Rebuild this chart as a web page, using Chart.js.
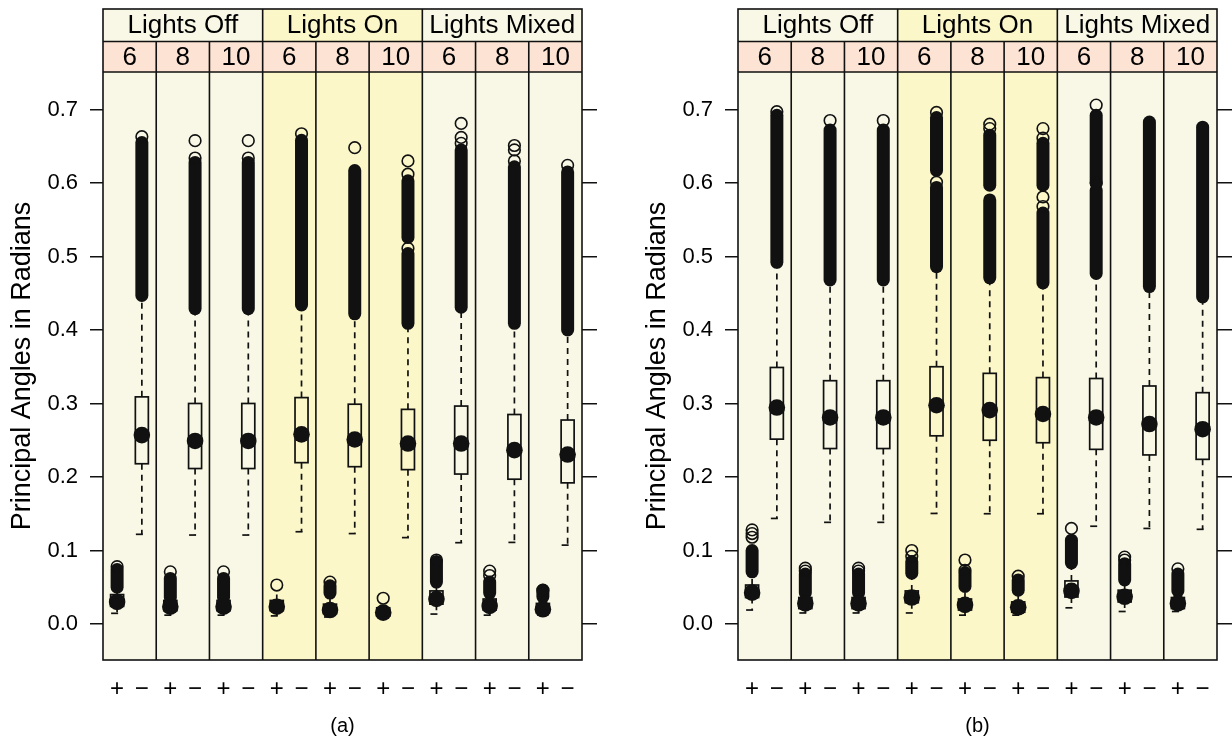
<!DOCTYPE html>
<html>
<head>
<meta charset="utf-8">
<script src="https://cdn.jsdelivr.net/npm/chart.js@4/dist/chart.umd.min.js"></script>
<style>
  html, body { margin: 0; padding: 0; background: #fff; }
  #wrap { position: relative; width: 1232px; height: 742px; }
  canvas { position: absolute; top: 0; }
  #chartA { left: 0; }
  #chartB { left: 616px; }
</style>
</head>
<body>
<div id="wrap">
  <canvas id="chartA" width="616" height="742"></canvas>
  <canvas id="chartB" width="616" height="742"></canvas>
</div>
<script>
// Categories
const lights = ['Lights Off', 'Lights On', 'Lights Mixed'];
const panels = ['6', '8', '10', '6', '8', '10', '6', '8', '10'];
const groups = ['+', '\u2212'];
const yTicks = [0, 0.1, 0.2, 0.3, 0.4, 0.5, 0.6, 0.7];

// (a) "+" boxes
const aPlusLow  = [0.0145, 0.012, 0.012, 0.011, 0.0095, 0.010, 0.0135, 0.012, 0.013];
const aPlusQ1   = [0.024, 0.018, 0.018, 0.018, 0.014, 0.011, 0.027, 0.019, 0.015];
const aPlusMed  = [0.030, 0.0235, 0.0235, 0.0235, 0.019, 0.0155, 0.034, 0.0245, 0.020];
const aPlusQ3   = [0.040, 0.032, 0.032, 0.032, 0.027, 0.022, 0.045, 0.034, 0.028];
const aPlusHigh = [0.050, 0.036, 0.036, 0.045, 0.038, 0.026, 0.055, 0.040, 0.035];
const aPlusBands = [[[0.050, 0.074]], [[0.036, 0.062]], [[0.036, 0.062]], [], [[0.042, 0.052]], [],
                    [[0.057, 0.085]], [[0.042, 0.057]], [[0.037, 0.046]]];
const aPlusOut = [[0.078], [0.071], [0.071], [0.053], [0.057], [0.035], [0.087], [0.066, 0.072], [0.046]];

// (a) "−" boxes
const aMinusLow = [0.122, 0.121, 0.121, 0.1255, 0.123, 0.1175, 0.1106, 0.111, 0.1073];
const aMinusQ1  = [0.218, 0.2115, 0.2115, 0.2195, 0.214, 0.210, 0.204, 0.197, 0.192];
const aMinusMed = [0.257, 0.249, 0.249, 0.258, 0.251, 0.2455, 0.2455, 0.2365, 0.2305];
const aMinusQ3  = [0.309, 0.300, 0.300, 0.308, 0.299, 0.292, 0.2965, 0.285, 0.2775];
const aMinusHigh = [0.447, 0.429, 0.429, 0.434, 0.422, 0.409, 0.431, 0.409, 0.400];
const aMinusBands = [[[0.447, 0.655]], [[0.429, 0.628]], [[0.429, 0.628]], [[0.434, 0.658]], [[0.422, 0.617]],
                     [[0.409, 0.504], [0.526, 0.603]], [[0.431, 0.645]], [[0.409, 0.622]], [[0.400, 0.615]]];
const aMinusOut = [[0.663], [0.634, 0.6576], [0.634, 0.6576], [0.667], [0.648], [0.511, 0.612, 0.630],
                   [0.654, 0.662, 0.681], [0.630, 0.645, 0.651], [0.624]];

// (b) "+" boxes
const bPlusLow  = [0.019, 0.015, 0.015, 0.015, 0.012, 0.012, 0.022, 0.017, 0.017];
const bPlusQ1   = [0.036, 0.021, 0.021, 0.029, 0.019, 0.016, 0.0367, 0.030, 0.021];
const bPlusMed  = [0.0426, 0.028, 0.028, 0.036, 0.026, 0.0227, 0.045, 0.037, 0.028];
const bPlusQ3   = [0.053, 0.036, 0.036, 0.045, 0.034, 0.030, 0.0586, 0.046, 0.036];
const bPlusHigh = [0.071, 0.042, 0.042, 0.069, 0.051, 0.046, 0.083, 0.060, 0.045];
const bPlusBands = [[[0.071, 0.100]], [[0.042, 0.068]], [[0.042, 0.068]], [[0.069, 0.085]], [[0.051, 0.070]],
                    [[0.046, 0.060]], [[0.083, 0.114]], [[0.060, 0.082]], [[0.045, 0.068]]];
const bPlusOut = [[0.118, 0.123, 0.128], [0.072, 0.076], [0.072, 0.076], [0.092, 0.100], [0.073, 0.087],
                  [0.065], [0.130], [0.087, 0.091], [0.075]];

// (b) "−" boxes
const bMinusLow = [0.1436, 0.1383, 0.1383, 0.1504, 0.150, 0.150, 0.133, 0.130, 0.1288];
const bMinusQ1  = [0.2515, 0.2387, 0.2387, 0.256, 0.250, 0.2466, 0.2376, 0.230, 0.224];
const bMinusMed = [0.2945, 0.281, 0.281, 0.2976, 0.291, 0.2857, 0.281, 0.272, 0.265];
const bMinusQ3  = [0.349, 0.331, 0.331, 0.350, 0.341, 0.3352, 0.334, 0.3238, 0.3147];
const bMinusHigh = [0.492, 0.468, 0.468, 0.486, 0.471, 0.464, 0.477, 0.459, 0.445];
const bMinusBands = [[[0.492, 0.692]], [[0.468, 0.672]], [[0.468, 0.672]], [[0.486, 0.594], [0.617, 0.689]],
                     [[0.471, 0.577], [0.597, 0.665]], [[0.464, 0.559], [0.597, 0.654]],
                     [[0.477, 0.590], [0.600, 0.692]], [[0.459, 0.683]], [[0.445, 0.676]]];
const bMinusOut = [[0.697], [0.685], [0.685], [0.601, 0.696], [0.674, 0.680], [0.568, 0.581, 0.661, 0.674],
                   [0.600, 0.706], [], []];

const plusPos = 0.265;
const minusPos = 0.73;
const panelFill = ['#f9f8e6', '#fbf7c9', '#f9f8e6'];
const lightStrip = ['#f9f8e6', '#fbf7c9', '#f9f8e6'];
const numberStrip = '#fde3d3';
const ink = '#111';

Chart.defaults.font.family = '"Liberation Sans", Arial, sans-serif';
Chart.defaults.color = '#000';

function drawBox(ctx, y, cx, s, i) {
  const hw = 6.5;
  const pLow = y.getPixelForValue(s.low[i]);
  const pQ1 = y.getPixelForValue(s.q1[i]);
  const pQ3 = y.getPixelForValue(s.q3[i]);
  const pHigh = y.getPixelForValue(s.high[i]);
  ctx.strokeStyle = ink;
  ctx.lineWidth = 1.7;
  // whiskers
  ctx.setLineDash([6, 5]);
  ctx.beginPath();
  ctx.moveTo(cx, pQ1); ctx.lineTo(cx, pLow);
  ctx.moveTo(cx, pQ3); ctx.lineTo(cx, pHigh);
  ctx.stroke();
  ctx.setLineDash([]);
  ctx.beginPath();
  ctx.moveTo(cx - 6, pLow); ctx.lineTo(cx + 1, pLow);
  ctx.stroke();
  // box
  ctx.strokeRect(cx - hw, pQ3, 2 * hw, pQ1 - pQ3);
  // dense outlier columns
  ctx.fillStyle = ink;
  s.bands[i].forEach(([lo, hi]) => {
    const t = y.getPixelForValue(hi) - 6.5;
    const b = y.getPixelForValue(lo) + 6.5;
    ctx.beginPath();
    ctx.roundRect(cx - 6.5, t, 13, b - t, 6.5);
    ctx.fill();
  });
}

const latticePlugin = {
  id: 'lattice',
  beforeDraw(chart) {
    const { ctx, chartArea: a, scales: { x } } = chart;
    ctx.save();
    for (let i = 0; i < panels.length; i++) {
      const l = x.getPixelForValue(i), r = x.getPixelForValue(i + 1);
      ctx.fillStyle = panelFill[Math.floor(i / 3)];
      ctx.fillRect(l, a.top, r - l, a.bottom - a.top);
    }
    ctx.restore();
  },
  beforeDatasetsDraw(chart) {
    const { ctx, scales: { x, y } } = chart;
    const opts = chart.options.plugins.lattice;
    ctx.save();
    for (let i = 0; i < panels.length; i++) {
      drawBox(ctx, y, x.getPixelForValue(i + plusPos), opts.plus, i);
      drawBox(ctx, y, x.getPixelForValue(i + minusPos), opts.minus, i);
    }
    ctx.restore();
  },
  afterDraw(chart) {
    const { ctx, chartArea: a, scales: { x } } = chart;
    const top = 9, mid = 41.5, bot = a.top;
    ctx.save();
    ctx.textAlign = 'center';
    ctx.textBaseline = 'middle';
    ctx.font = '26px "Liberation Sans", Arial, sans-serif';
    for (let g = 0; g < lights.length; g++) {
      const l = x.getPixelForValue(g * 3), r = x.getPixelForValue(g * 3 + 3);
      ctx.fillStyle = lightStrip[g];
      ctx.fillRect(l, top, r - l, mid - top);
      ctx.fillStyle = '#000';
      ctx.fillText(lights[g], (l + r) / 2, (top + mid) / 2 + 1);
    }
    for (let i = 0; i < panels.length; i++) {
      const l = x.getPixelForValue(i), r = x.getPixelForValue(i + 1);
      ctx.fillStyle = numberStrip;
      ctx.fillRect(l, mid, r - l, bot - mid);
      ctx.fillStyle = '#000';
      ctx.fillText(panels[i], (l + r) / 2, (mid + bot) / 2 + 1);
    }
    // frame lines
    ctx.strokeStyle = ink;
    ctx.lineWidth = 1.6;
    ctx.strokeRect(a.left, top, a.right - a.left, a.bottom - top);
    ctx.beginPath();
    ctx.moveTo(a.left, mid); ctx.lineTo(a.right, mid);
    ctx.moveTo(a.left, bot); ctx.lineTo(a.right, bot);
    for (let i = 1; i < panels.length; i++) {
      const px = x.getPixelForValue(i);
      ctx.moveTo(px, i % 3 === 0 ? top : mid);
      ctx.lineTo(px, a.bottom);
    }
    ctx.stroke();
    ctx.restore();
  }
};

function makeChart(id, tag, padLeft, padRight, plus, minus, plusOut, minusOut) {
  const medians = [];
  const outliers = [];
  for (let i = 0; i < panels.length; i++) {
    medians.push({ x: i + plusPos, y: plus.med[i] });
    medians.push({ x: i + minusPos, y: minus.med[i] });
    plusOut[i].forEach(v => outliers.push({ x: i + plusPos, y: v }));
    minusOut[i].forEach(v => outliers.push({ x: i + minusPos, y: v }));
  }
  const tickPositions = [];
  for (let i = 0; i < panels.length; i++) tickPositions.push(i + plusPos, i + minusPos);

  return new Chart(document.getElementById(id), {
    type: 'scatter',
    data: {
      datasets: [
        { data: medians, pointRadius: 8.3, pointBackgroundColor: ink, pointBorderWidth: 0 },
        { data: outliers, pointRadius: 5.8, pointBackgroundColor: 'rgba(0,0,0,0)',
          pointBorderColor: ink, pointBorderWidth: 1.6 }
      ]
    },
    options: {
      responsive: false,
      animation: false,
      events: [],
      devicePixelRatio: 1,
      layout: { padding: { top: 72, left: padLeft, right: padRight, bottom: 0 } },
      plugins: {
        legend: { display: false },
        tooltip: { enabled: false },
        lattice: { plus: plus, minus: minus }
      },
      scales: {
        x: {
          type: 'linear', min: 0, max: 9,
          grid: { display: false },
          border: { display: false },
          afterBuildTicks: s => { s.ticks = tickPositions.map(v => ({ value: v })); },
          afterFit: s => { s.height = 82; },
          ticks: {
            autoSkip: false, maxRotation: 0, padding: 7,
            font: { size: 24 },
            callback: (v, idx) => groups[idx % 2]
          },
          title: { display: true, text: tag, font: { size: 20 }, padding: { top: 0, bottom: 4 } }
        },
        y: {
          type: 'linear', position: 'left', min: -0.049, max: 0.751,
          afterBuildTicks: s => { s.ticks = yTicks.map(v => ({ value: v })); },
          afterFit: s => { s.width = 103; },
          grid: { drawOnChartArea: false, drawTicks: true, tickLength: 13, color: ink, lineWidth: 1.5 },
          border: { display: false },
          ticks: { padding: 12, font: { size: 22 }, callback: v => v.toFixed(1) },
          title: { display: true, text: 'Principal Angles in Radians', font: { size: 27 },
                   padding: { top: 6, bottom: 0 } }
        },
        yr: {
          type: 'linear', position: 'right', min: -0.049, max: 0.751,
          afterBuildTicks: s => { s.ticks = yTicks.map(v => ({ value: v })); },
          afterFit: s => { s.width = 15; },
          grid: { drawOnChartArea: false, drawTicks: true, tickLength: 15, color: ink, lineWidth: 1.5 },
          border: { display: false },
          ticks: { display: false }
        }
      }
    },
    plugins: [latticePlugin]
  });
}

makeChart('chartA', '(a)', 0, 19,
  { low: aPlusLow, q1: aPlusQ1, med: aPlusMed, q3: aPlusQ3, high: aPlusHigh, bands: aPlusBands },
  { low: aMinusLow, q1: aMinusQ1, med: aMinusMed, q3: aMinusQ3, high: aMinusHigh, bands: aMinusBands },
  aPlusOut, aMinusOut);

makeChart('chartB', '(b)', 19, 0,
  { low: bPlusLow, q1: bPlusQ1, med: bPlusMed, q3: bPlusQ3, high: bPlusHigh, bands: bPlusBands },
  { low: bMinusLow, q1: bMinusQ1, med: bMinusMed, q3: bMinusQ3, high: bMinusHigh, bands: bMinusBands },
  bPlusOut, bMinusOut);
</script>
</body>
</html>
